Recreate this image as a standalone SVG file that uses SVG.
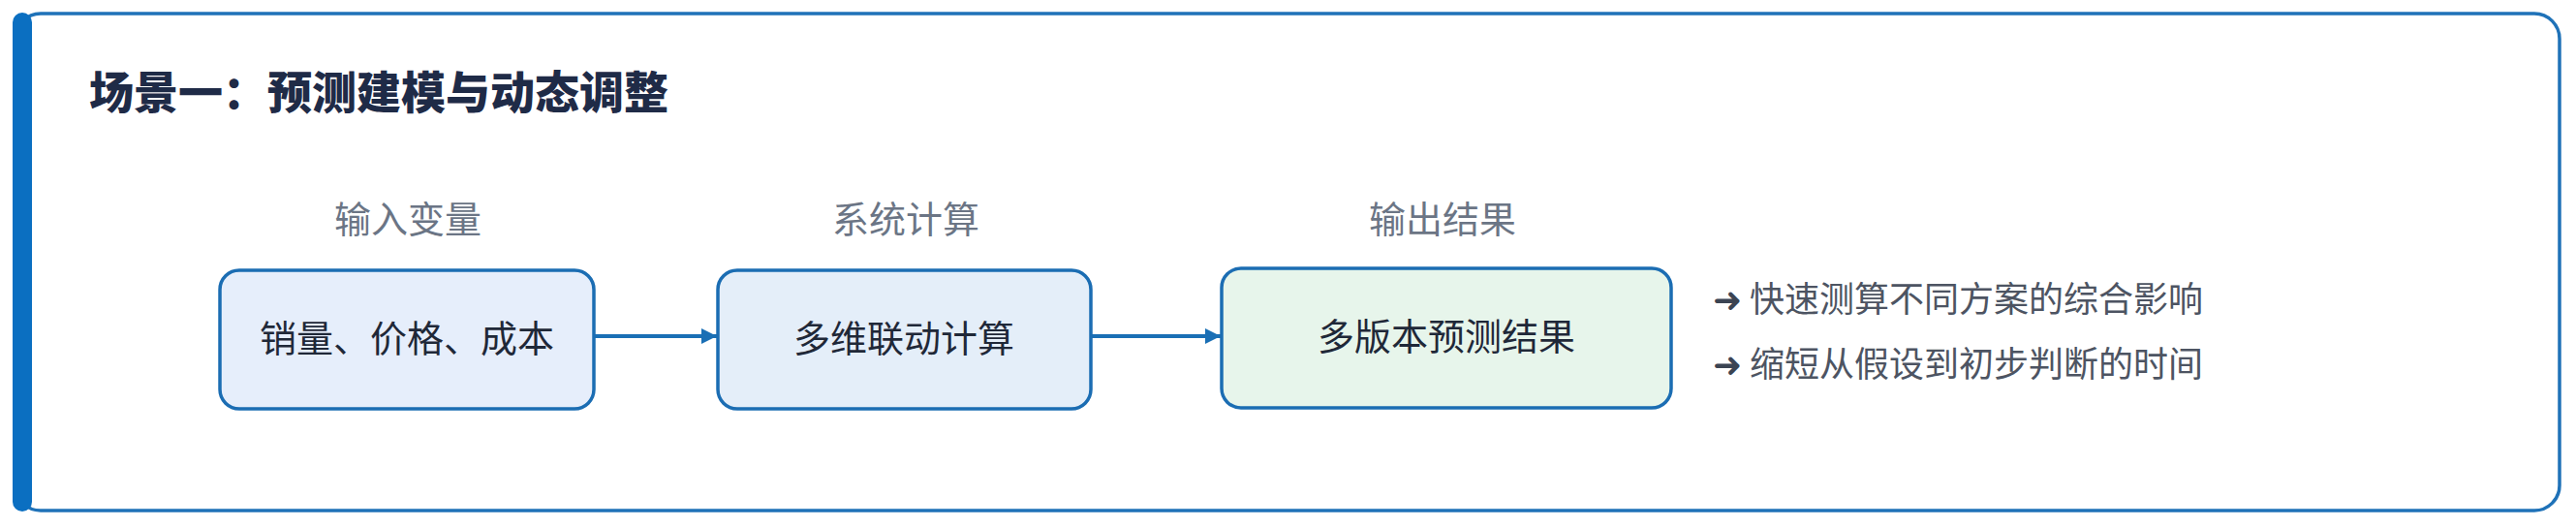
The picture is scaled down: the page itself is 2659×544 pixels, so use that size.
<svg xmlns="http://www.w3.org/2000/svg" width="2659" height="544" viewBox="0 0 2659 544">
  <style>
    .title { font-family: "Noto Sans CJK SC", sans-serif; font-weight: 900; font-size: 46px; fill: #1f2b47; }
    .label { font-family: "Noto Sans CJK SC", sans-serif; font-size: 38px; fill: #6b7585; text-anchor: middle; }
    .ntext { font-family: "Noto Sans CJK SC", sans-serif; font-size: 38px; fill: #1f2838; text-anchor: middle; }
    .bullet { font-family: "Noto Sans CJK SC", sans-serif; font-size: 36px; fill: #4d5462; }
    .arrowc { fill: #3b4453; }
    .box { stroke: #1b6db3; stroke-width: 3.5; }
    .conn { stroke: #1a6fb5; stroke-width: 4; fill: none; }
  </style>
  <defs>
    <marker id="ah" viewBox="0 0 10 10" refX="10" refY="5" markerWidth="4" markerHeight="4.4" markerUnits="strokeWidth" orient="auto">
      <path d="M0,0 L10,5 L0,10 Z" fill="#1a6fb5"/>
    </marker>
  </defs>
  <rect width="2659" height="544" fill="#ffffff"/>
  <g id="frame">
    <rect x="16" y="14" width="2626" height="513" rx="26" fill="#ffffff" stroke="#1f72b8" stroke-width="3.5"/>
    <rect x="13" y="13" width="20" height="515" rx="10" fill="#0b6fc1"/>
    <text class="title" x="92" y="112">场景一：预测建模与动态调整</text>
  </g>
  <g id="labels">
    <text class="label" x="421" y="240">输入变量</text>
    <text class="label" x="935" y="240">系统计算</text>
    <text class="label" x="1489" y="240">输出结果</text>
  </g>
  <g id="connectors">
    <line class="conn" x1="614" y1="347" x2="740" y2="347" marker-end="url(#ah)"/>
    <line class="conn" x1="1127" y1="347" x2="1260" y2="347" marker-end="url(#ah)"/>
  </g>
  <g id="node-input">
    <rect class="box" x="227" y="279" width="386" height="143" rx="20" fill="#e6eefb"/>
    <text class="ntext" x="420" y="363">销量、价格、成本</text>
  </g>
  <g id="node-compute">
    <rect class="box" x="741" y="279" width="385" height="143" rx="20" fill="#e4eef9"/>
    <text class="ntext" x="933" y="363">多维联动计算</text>
  </g>
  <g id="node-output">
    <rect class="box" x="1261" y="277" width="464" height="144" rx="20" fill="#e7f5eb"/>
    <text class="ntext" x="1493" y="361">多版本预测结果</text>
  </g>
  <g id="notes">
    <text class="bullet" x="1768" y="322"><tspan class="arrowc">➜</tspan> 快速测算不同方案的综合影响</text>
    <text class="bullet" x="1768" y="389"><tspan class="arrowc">➜</tspan> 缩短从假设到初步判断的时间</text>
  </g>
</svg>
